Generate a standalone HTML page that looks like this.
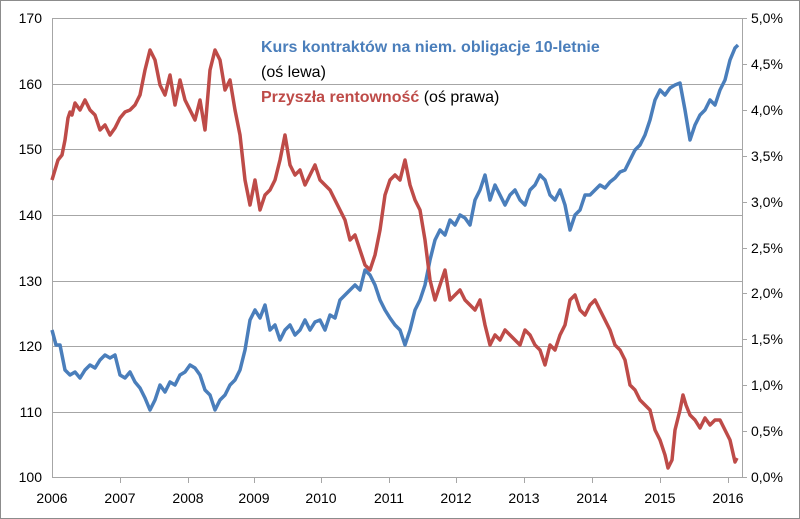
<!DOCTYPE html>
<html><head><meta charset="utf-8"><style>
body{margin:0;background:#fff}
svg{display:block;font-family:"Liberation Sans",Arial,sans-serif}
</style></head><body>
<svg width="800" height="519" viewBox="0 0 800 519">
<rect x="0.5" y="0.5" width="799" height="518" fill="#fff" stroke="#8c8c8c"/>
<g stroke="#a6a6a6" stroke-width="1">
<line x1="52" y1="18.5" x2="742" y2="18.5"/>
<line x1="52" y1="84.5" x2="742" y2="84.5"/>
<line x1="52" y1="149.5" x2="742" y2="149.5"/>
<line x1="52" y1="215.5" x2="742" y2="215.5"/>
<line x1="52" y1="281.5" x2="742" y2="281.5"/>
<line x1="52" y1="346.5" x2="742" y2="346.5"/>
<line x1="52" y1="412.5" x2="742" y2="412.5"/>
<line x1="52.5" y1="18" x2="52.5" y2="478"/>
<line x1="742.5" y1="18" x2="742.5" y2="478"/>
<line x1="52" y1="477.5" x2="742" y2="477.5"/>
<line x1="742" y1="18.5" x2="747" y2="18.5"/><line x1="742" y1="64.5" x2="747" y2="64.5"/><line x1="742" y1="110.5" x2="747" y2="110.5"/><line x1="742" y1="156.5" x2="747" y2="156.5"/><line x1="742" y1="202.5" x2="747" y2="202.5"/><line x1="742" y1="248.5" x2="747" y2="248.5"/><line x1="742" y1="293.5" x2="747" y2="293.5"/><line x1="742" y1="339.5" x2="747" y2="339.5"/><line x1="742" y1="385.5" x2="747" y2="385.5"/><line x1="742" y1="431.5" x2="747" y2="431.5"/><line x1="742" y1="477.5" x2="747" y2="477.5"/>
<line x1="120.5" y1="477" x2="120.5" y2="483"/><line x1="188.5" y1="477" x2="188.5" y2="483"/><line x1="254.5" y1="477" x2="254.5" y2="483"/><line x1="321.5" y1="477" x2="321.5" y2="483"/><line x1="389.5" y1="477" x2="389.5" y2="483"/><line x1="456.5" y1="477" x2="456.5" y2="483"/><line x1="524.5" y1="477" x2="524.5" y2="483"/><line x1="592.5" y1="477" x2="592.5" y2="483"/><line x1="660.5" y1="477" x2="660.5" y2="483"/><line x1="728.5" y1="477" x2="728.5" y2="483"/>
</g>
<g font-size="14" fill="#000" text-anchor="end">
<text x="42" y="23">170</text><text x="42" y="89">160</text><text x="42" y="154">150</text><text x="42" y="220">140</text><text x="42" y="286">130</text><text x="42" y="351">120</text><text x="42" y="417">110</text><text x="42" y="482">100</text>
</g>
<g font-size="14" fill="#000" text-anchor="start">
<text x="751" y="23">5,0%</text><text x="751" y="69">4,5%</text><text x="751" y="115">4,0%</text><text x="751" y="161">3,5%</text><text x="751" y="207">3,0%</text><text x="751" y="253">2,5%</text><text x="751" y="298">2,0%</text><text x="751" y="344">1,5%</text><text x="751" y="390">1,0%</text><text x="751" y="436">0,5%</text><text x="751" y="482">0,0%</text>
</g>
<g font-size="14" fill="#000" text-anchor="middle">
<text x="52" y="503">2006</text><text x="120" y="503">2007</text><text x="188" y="503">2008</text><text x="254" y="503">2009</text><text x="321" y="503">2010</text><text x="389" y="503">2011</text><text x="456" y="503">2012</text><text x="524" y="503">2013</text><text x="592" y="503">2014</text><text x="660" y="503">2015</text><text x="728" y="503">2016</text>
</g>
<polyline fill="none" stroke="#4a7ebb" stroke-width="3.5" stroke-linejoin="round" points="52,330 56,345 60,345 65,370 70,375 75,372 80,378 85,370 90,365 95,368 100,360 105,355 110,358 115,355 120,375 125,378 130,372 135,382 140,388 145,398 150,410 155,400 160,385 165,392 170,382 175,385 180,375 185,372 190,365 195,368 200,375 205,390 210,395 215,410 220,400 225,395 230,385 235,380 240,370 245,350 250,320 255,310 260,318 265,305 270,330 275,325 280,340 285,330 290,325 295,335 300,330 305,320 310,330 315,322 320,320 325,330 330,315 335,318 340,300 345,295 350,290 355,285 360,290 365,270 370,275 375,285 380,300 385,310 390,318 395,325 400,330 405,345 410,330 415,310 420,300 425,285 430,260 435,240 440,230 445,235 450,220 455,225 460,215 465,218 470,225 475,200 480,190 485,175 490,200 495,185 500,195 505,205 510,195 515,190 520,200 525,205 530,190 535,185 540,175 545,180 550,195 555,200 560,190 565,205 570,230 575,215 580,210 585,195 590,195 595,190 600,185 605,188 610,182 615,178 620,172 625,170 630,160 635,150 640,145 645,135 650,120 655,100 660,90 665,95 670,88 675,85 680,83 685,110 690,140 695,125 700,115 705,110 710,100 715,105 720,90 725,80 730,60 735,48 738,45"/>
<polyline fill="none" stroke="#be4b48" stroke-width="3.5" stroke-linejoin="round" points="52,180 55,170 58,160 62,155 65,140 68,118 70,112 72,115 75,103 80,110 85,100 90,110 95,115 100,130 105,125 110,135 115,128 120,118 125,112 130,110 135,105 140,95 145,70 150,50 155,60 160,85 165,95 170,75 175,105 180,80 185,100 190,110 195,120 200,100 205,130 210,70 215,50 220,60 225,90 230,80 235,110 240,135 245,180 250,205 255,180 260,210 265,195 270,190 275,180 280,160 285,135 290,165 295,175 300,170 305,185 310,175 315,165 320,180 325,185 330,190 335,200 340,210 345,220 350,240 355,235 360,250 365,265 370,270 375,255 380,230 385,195 390,180 395,175 400,180 405,160 410,185 415,200 420,210 425,240 430,280 435,300 440,285 445,270 450,300 455,295 460,290 465,300 470,305 475,310 480,300 485,325 490,345 495,335 500,340 505,330 510,335 515,340 520,345 525,330 530,335 535,345 540,350 545,365 550,345 555,350 560,335 565,325 570,300 575,295 580,310 585,315 590,305 595,300 600,310 605,320 610,330 615,345 620,350 625,360 630,385 635,390 640,400 645,405 650,410 655,430 660,440 665,455 668,468 672,460 675,430 680,410 683,395 686,405 690,415 695,420 700,428 705,418 710,425 715,420 720,420 725,430 730,440 735,462 737,458"/>
<text x="261" y="52" font-size="16" font-weight="bold" fill="#4a7ebb">Kurs kontraktów na niem. obligacje 10-letnie</text>
<text x="261" y="77" font-size="16" fill="#000">(oś lewa)</text>
<text x="261" y="102" font-size="16"><tspan font-weight="bold" fill="#be4b48">Przyszła rentowność</tspan><tspan fill="#000"> (oś prawa)</tspan></text>
</svg>
</body></html>
